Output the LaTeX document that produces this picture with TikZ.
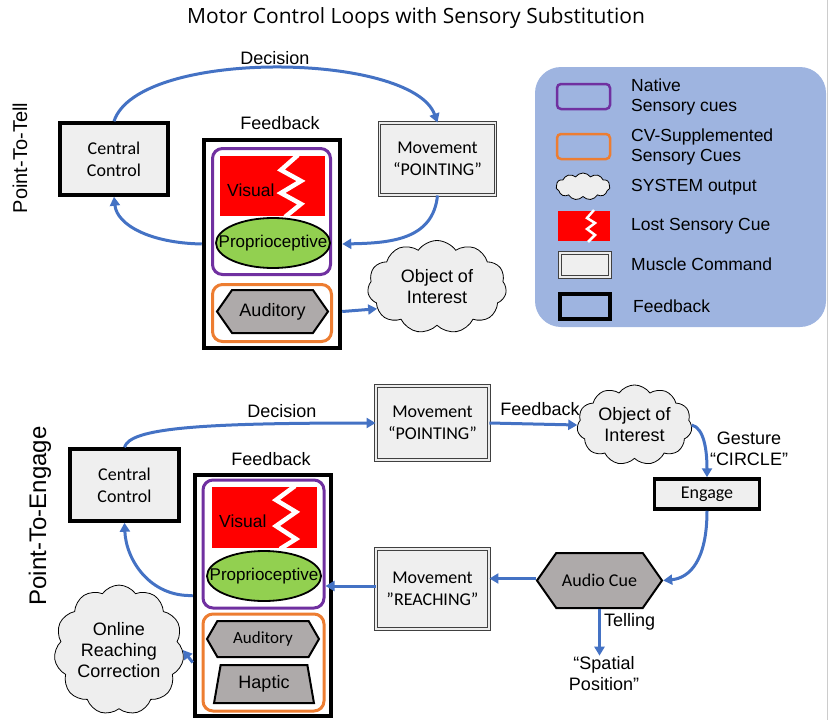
\documentclass[tikz,border=0pt]{standalone}
\usepackage{fontspec}
\setmainfont{Liberation Sans}
\newfontfamily\carlito{Carlito}
\newfontfamily\titlefont{Open Sans}
\usetikzlibrary{shapes.symbols,shapes.geometric,arrows.meta}
\definecolor{arrowblue}{RGB}{68,114,196}
\definecolor{boxgray}{RGB}{239,239,239}
\definecolor{cuepurple}{RGB}{112,48,160}
\definecolor{cueorange}{RGB}{237,125,49}
\definecolor{propgreen}{RGB}{146,208,80}
\definecolor{hexgray}{RGB}{174,170,170}
\definecolor{legendblue}{RGB}{158,180,224}
\definecolor{cloudgray}{RGB}{238,238,238}
\tikzset{
  lbl/.style={font=\fontsize{18}{21}\selectfont, align=center, inner sep=1pt},
  boxtxt/.style={font=\carlito\fontsize{18}{22}\selectfont, align=center},
  ctrlbox/.style={boxtxt, draw, line width=3.5pt, fill=boxgray},
  musclebox/.style={boxtxt, draw=black!75, line width=0.9pt, double=white!85!gray, double distance=1.6pt, fill=boxgray},
  fbbox/.style={draw, line width=4.5pt},
  nativecue/.style={draw=cuepurple, line width=3pt, rounded corners=10pt},
  cvcue/.style={draw=cueorange, line width=3pt, rounded corners=10pt},
  lostcue/.style={fill=red, inner sep=0pt},
  zigzag/.style={white, line width=4.5pt, miter limit=6},
  propcue/.style={draw, ellipse, line width=1.8pt, fill=propgreen, inner sep=0pt},
  hexcue/.style={draw, line width=2pt, fill=hexgray, signal, signal to=east and west, signal pointer angle=110, inner sep=0pt},
  sysout/.style={lbl, draw, cloud, cloud puffs=11, cloud puff arc=110, aspect=1.5, fill=cloudgray, line width=0.8pt, inner sep=0pt},
  flow/.style={-{Triangle[length=9pt,width=10pt]}, line width=3pt, draw=arrowblue},
  legtxt/.style={font=\fontsize{17.5}{20}\selectfont, align=left, anchor=west, inner sep=0pt},
}
\begin{document}
\begin{tikzpicture}[x=1pt,y=-1pt]
\useasboundingbox (0,0) rectangle (830,720);
\draw[black!20, line width=1pt] (827.5,0) -- (827.5,720);

% title
\node[font=\titlefont\fontsize{21}{24}\selectfont] (title) at (416,18) {Motor Control Loops with Sensory Substitution};

% ---------- Point-To-Tell ----------
\node[rotate=90, font=\fontsize{20}{24}\selectfont] (tell) at (20,158) {Point-To-Tell};
\node[ctrlbox, minimum width=108pt, minimum height=72pt] (cc1) at (114,159) {Central\\Control};
\node[musclebox, minimum width=116pt, minimum height=72pt] (mv1) at (437.5,159) {Movement\\“POINTING”};
\node[fbbox, minimum width=136pt, minimum height=208pt] (fb1) at (272,244) {};
\node[lbl] (fbl1) at (280,123) {Feedback};
\node[nativecue, minimum width=118pt, minimum height=126pt] (nat1) at (271.5,211.5) {};
\node[lostcue, minimum width=105pt, minimum height=60pt] (vis1) at (272.5,186) {};
\draw[zigzag] (298,155) -- (281,170) -- (301,181) -- (281,193) -- (301,204) -- (285,217);
\node[lbl, anchor=west, font=\fontsize{17.5}{20}\selectfont] (vist1) at (226,190) {Visual};
\node[propcue, minimum width=114pt, minimum height=50pt] (prop1) at (273,243) {};
\node[lbl, font=\fontsize{17}{20}\selectfont] (propt1) at (prop1) {Proprioceptive};
\node[cvcue, minimum width=119pt, minimum height=57pt] (cv1) at (272,313) {};
\node[hexcue, minimum width=111pt, minimum height=43pt, font=\fontsize{18}{21}\selectfont] (aud1) at (272.5,311.5) {Auditory};
\node[sysout, minimum width=139pt, minimum height=93pt] (obj1) at (437,287) {Object of\\Interest};

\draw[flow] (cc1.north) .. controls (138,48) and (412,52) .. (mv1.north);
\node[lbl] (dec1) at (275,58) {Decision};
\draw[flow] (mv1.south) .. controls (433,240) and (390,243) .. (fb1.east);
\draw[flow] (fb1.west) .. controls (150,243) and (117,225) .. (cc1.south);
\draw[flow] (fb1.east |- aud1) -- (obj1.200);

% ---------- legend ----------
\fill[legendblue, rounded corners=26pt] (535,67) rectangle (826,327);
\node[nativecue, rounded corners=4pt, line width=2.5pt, minimum width=53pt, minimum height=25pt] (lnat) at (583.5,96.5) {};
\node[legtxt] (lnatt) at (631,97) {Native\\Sensory cues};
\node[cvcue, rounded corners=4pt, line width=2.5pt, minimum width=53pt, minimum height=25pt] (lcv) at (583.5,146.5) {};
\node[legtxt] (lcvt) at (631,147) {CV-Supplemented\\Sensory Cues};
\node[sysout, minimum width=54pt, minimum height=27pt, aspect=2] (lsys) at (583,186.5) {};
\node[legtxt] (lsyst) at (631,187) {SYSTEM output};
\node[lostcue, minimum width=52pt, minimum height=30pt] (llost) at (584,226) {};
\draw[zigzag, line width=2.5pt] (594,210) -- (587,218) -- (595,223) -- (587,229) -- (595,235) -- (588,242);
\node[legtxt] (llostt) at (631,226) {Lost Sensory Cue};
\node[musclebox, minimum width=50pt, minimum height=24pt] (lmus) at (585,265) {};
\node[legtxt] (lmust) at (631,264) {Muscle Command};
\node[fbbox, line width=4pt, minimum width=50pt, minimum height=25pt] (lfb) at (585,306.5) {};
\node[legtxt] (lfbt) at (633,306) {Feedback};

% ---------- Point-To-Engage ----------
\node[rotate=90, font=\fontsize{24}{28}\selectfont] (engage) at (40,516) {Point-To-Engage};
\node[ctrlbox, minimum width=109pt, minimum height=72pt] (cc2) at (124.5,485) {Central\\Control};
\node[fbbox, minimum width=136pt, minimum height=241pt] (fb2) at (263,595.5) {};
\node[lbl] (fbl2) at (271,459) {Feedback};
\node[nativecue, minimum width=121pt, minimum height=128pt] (nat2) at (263.5,544) {};
\node[lostcue, minimum width=105pt, minimum height=61pt] (vis2) at (264.5,517.5) {};
\draw[zigzag] (295,486) -- (276,500) -- (296,512) -- (276,526) -- (296,539) -- (280,549);
\node[lbl, anchor=west, font=\fontsize{17.5}{20}\selectfont] (vist2) at (218,521) {Visual};
\node[propcue, minimum width=114pt, minimum height=50pt] (prop2) at (264,576) {};
\node[lbl, font=\fontsize{17}{20}\selectfont] (propt2) at (prop2) {Proprioceptive};
\node[cvcue, minimum width=121pt, minimum height=97pt] (cv2) at (263.5,662.5) {};
\node[hexcue, minimum width=112pt, minimum height=36pt, font=\carlito\fontsize{17}{20}\selectfont, signal pointer angle=120] (aud2) at (263,639) {Auditory};
\node[draw, line width=2pt, fill=hexgray, trapezium, trapezium angle=77, minimum width=100pt, minimum height=38pt, trapezium stretches=true, font=\fontsize{18}{21}\selectfont, inner sep=0pt] (hap2) at (264,684) {Haptic};
\node[sysout, minimum width=108pt, minimum height=105pt, aspect=1] (cor2) at (119,650) {Online\\Reaching\\Correction};

\node[musclebox, minimum width=113pt, minimum height=74pt] (mvp2) at (432.5,423) {Movement\\“POINTING”};
\node[musclebox, minimum width=113pt, minimum height=80pt] (mvr2) at (432.5,589) {Movement\\”REACHING”};
\node[sysout, minimum width=115pt, minimum height=76pt] (obj2) at (634.5,425) {Object of\\Interest};
\node[ctrlbox, minimum width=105pt, minimum height=30pt, inner sep=0pt] (eng2) at (707,494) {Engage};
\node[hexcue, minimum width=125pt, minimum height=55pt, font=\carlito\fontsize{18}{21}\selectfont] (cue2) at (599.5,580.5) {Audio Cue};
\node[lbl] (sp2) at (604,674) {“Spatial\\Position”};

\draw[flow] (cc2.north) .. controls (130,428) and (200,423) .. (mvp2.west);
\node[lbl] (dec2) at (282,411) {Decision};
\draw[flow] (mvp2.east) -- (obj2.west);
\node[lbl] (fbk2) at (540,409) {Feedback};
\draw[flow] (obj2.east) .. controls (704,428) and (707,450) .. (eng2.north);
\node[lbl] (ges2) at (749,449) {Gesture\\“CIRCLE”};
\draw[flow] (eng2.south) .. controls (707,560) and (690,578) .. (cue2.east);
\draw[flow] ([yshift=2pt]cue2.west) -- ([yshift=2pt]cue2.west -| mvr2.east);
\draw[flow] ([yshift=3pt]mvr2.west) -- ([yshift=3pt]mvr2.west -| nat2.east);
\draw[flow] (cue2.south) -- (cue2.south |- sp2.north);
\node[lbl, anchor=west] (tel2) at (603,622) {Telling};
\draw[flow] (fb2.west) .. controls (150,597) and (126,560) .. (cc2.south);
\draw[flow] (fb2.west |- cv2) -- (cor2.east);
\end{tikzpicture}
\end{document}
